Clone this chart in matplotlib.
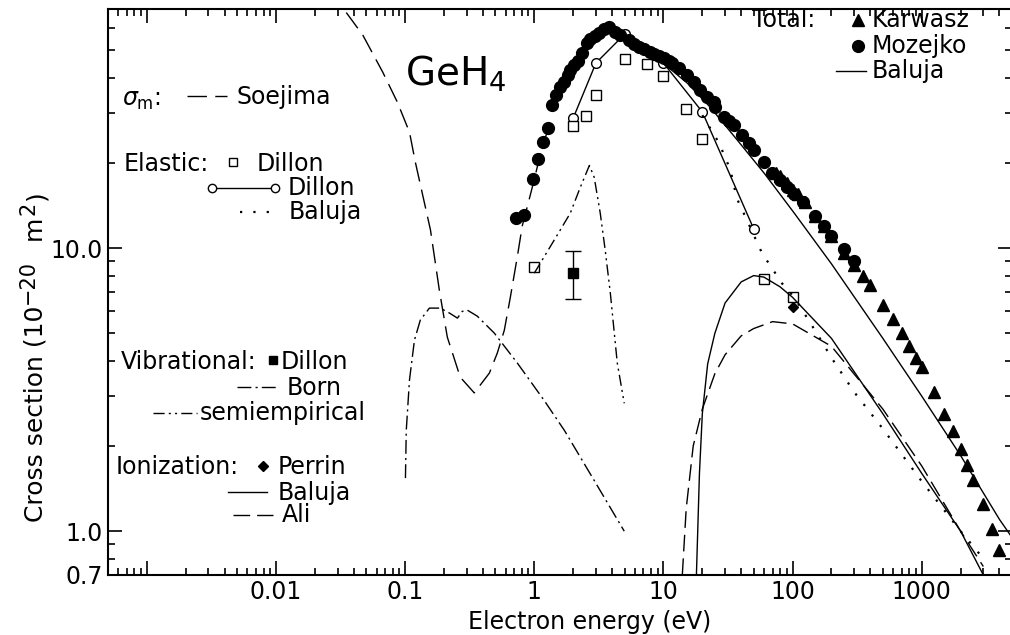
import numpy as np
import matplotlib.pyplot as plt

# GeH4 electron scattering cross sections (energies in eV, cross sections in 1e-20 m^2)

# sigma_m, Soejima
soejima_e = [0.035, 0.047, 0.067, 0.087, 0.108, 0.12, 0.157, 0.184, 0.212, 0.267, 0.343,
             0.449, 0.517, 0.586, 0.652, 0.738, 0.807, 0.91, 1.0, 1.1, 1.2, 1.28]
soejima_q = [68, 56.6, 41.9, 32.8, 25.7, 20.1, 11.6, 7.1, 4.85, 3.5, 3.08,
             3.62, 4.26, 5.13, 6.7, 9.3, 12.0, 14.8, 17.5, 21.0, 24.0, 26.5]

# elastic, Dillon (squares)
dillon_sq_e = [1.0, 2.0, 2.5, 3.0, 5.0, 7.5, 10, 15, 20, 60, 100]
dillon_sq_q = [8.6, 27.0, 29.3, 34.7, 46.6, 44.7, 40.5, 31.0, 24.3, 7.77, 6.7]

# elastic, Dillon (circles joined by a line)
dillon_ci_e = [2, 3, 5, 10, 20, 50]
dillon_ci_q = [28.8, 45.1, 57.0, 45.1, 30.3, 11.7]

# elastic, Baluja
baluja_el_e = [20, 27, 33, 37, 46, 58, 83, 103, 150, 200, 300, 500, 1000, 2000, 3000]
baluja_el_q = [29.5, 23.5, 18.9, 15.0, 12.1, 9.6, 7.5, 6.7, 5.1, 4.1, 3.1, 2.3, 1.5, 1.0, 0.8]

# vibrational
vib_dillon_e = [2.0]
vib_dillon_q = [8.2]
vib_dillon_lo = [6.6]
vib_dillon_hi = [9.75]

born_e = [0.1005, 0.102, 0.108, 0.118, 0.131, 0.154, 0.187, 0.22, 0.254, 0.277, 0.303,
          0.362, 0.49, 0.738, 1.19, 1.71, 2.91, 4.97]
born_q = [1.54, 2.27, 3.42, 4.73, 5.57, 6.14, 6.14, 5.9, 5.66, 5.98, 6.04,
          5.75, 5.01, 3.93, 2.9, 2.27, 1.51, 1.0]

semi_e = [1.0, 1.59, 1.9, 2.27, 2.67, 2.91, 3.24, 3.54, 3.88, 4.39, 4.97]
semi_q = [8.16, 11.6, 13.3, 16.4, 19.6, 17.8, 13.3, 9.84, 6.93, 3.93, 2.83]

# ionization
perrin_e = [100]
perrin_q = [6.2]

baluja_ion_e = [18, 19, 20, 22, 25, 30, 40, 50, 60, 80, 100, 200, 500, 1000, 2000, 3000]
baluja_ion_q = [0.7, 1.6, 2.6, 3.9, 5.0, 6.4, 7.6, 8.0, 7.9, 7.3, 6.7, 4.8, 2.6, 1.6, 1.0, 0.7]

ali_e = [14, 15, 17, 20, 25, 30, 40, 50, 70, 100, 200, 500, 1000, 2000, 3000]
ali_q = [0.7, 1.2, 2.0, 2.7, 3.6, 4.2, 4.9, 5.2, 5.5, 5.4, 4.5, 2.7, 1.7, 1.0, 0.75]

# total
karwasz_e = [75, 80, 90, 100, 110, 125, 150, 175, 200, 250, 300, 350, 400, 500, 600, 700,
             800, 900, 1000, 1250, 1500, 1750, 2000, 2250, 2500, 3000, 3500, 4000]
karwasz_q = [18.5, 18, 17, 16, 15.5, 14.5, 13, 12, 11, 9.6, 8.7, 8.0, 7.4, 6.3, 5.6, 5.0,
             4.5, 4.1, 3.8, 3.1, 2.6, 2.25, 1.95, 1.72, 1.52, 1.25, 1.02, 0.86]

mozejko_e = [0.726, 0.837, 0.98, 1.07, 1.17, 1.28, 1.38, 1.48, 1.59, 1.71, 1.83, 1.9, 2.04, 2.19,
             2.35, 2.57, 2.71, 2.96, 3.18, 3.48, 3.81, 4.23, 4.63, 5.43, 5.94, 6.5, 7.1, 7.8,
             8.5, 9.3, 10.1, 11.1, 11.7, 13.3, 15.3, 17.3, 19.2, 21.8, 24.6, 25.2, 29.5, 32.3,
             35.3, 40.6, 46.1, 50.5, 60.3, 69.5, 80.3, 90.6, 103, 120, 150, 175, 200, 250, 300]
mozejko_q = [12.8, 13.1, 17.5, 20.6, 23.7, 26.5, 32.0, 34.7, 37.0, 38.6, 40.8, 42.5, 44.3, 45.8,
             48.9, 53.0, 54.7, 56.1, 57.5, 59.3, 60.4, 58.0, 56.5, 54.3, 52.5, 51.4, 50.5, 49.3,
             48.5, 47.7, 46.9, 45.8, 45.1, 43.2, 40.8, 38.6, 36.1, 34.2, 32.8, 31.5, 29.0, 28.1,
             27.2, 25.1, 23.5, 22.2, 20.1, 18.5, 17.4, 16.4, 15.6, 14.5, 13.0, 12.0, 11.0, 9.9, 9.0]

baluja_tot_e = [10, 15.3, 23, 37.3, 60.3, 103, 200, 500, 1000, 2000, 4000, 5000]
baluja_tot_q = [45, 38.3, 31.5, 24.1, 18.4, 13.3, 8.8, 4.8, 3.0, 1.85, 1.1, 0.95]

plt.rcParams['font.family'] = 'DejaVu Sans'
plt.rcParams['font.size'] = 17
plt.rcParams['mathtext.fontset'] = 'dejavusans'

W, H = 1010, 635
fig = plt.figure(figsize=(W / 100, H / 100), dpi=100)
L, R, T, B = 108, 1012, 9, 575
ax = fig.add_axes([L / W, 1 - B / H, (R - L) / W, (B - T) / H])
ax.set_xscale('log')
ax.set_yscale('log')
ax.set_xlim(0.0005, 5000)
ax.set_ylim(0.7, 70)

dots = (0, (1, 5))
k = dict(color='black', lw=1.0)
ax.plot(soejima_e, soejima_q, ls=(0, (14, 6)), **k)
ax.plot(dillon_ci_e, dillon_ci_q, marker='o', ms=7, mfc='white', mec='black', mew=1.0, **k)
ax.plot(dillon_sq_e, dillon_sq_q, ls='none', marker='s', ms=7.5, mfc='white', mec='black', mew=1.0)
ax.plot(baluja_el_e, baluja_el_q, ls=dots, color='black', lw=1.6)
ax.plot(born_e, born_q, ls=(0, (10, 3, 1.5, 3)), **k)
ax.plot(semi_e, semi_q, ls=(0, (8, 3, 1.5, 3, 1.5, 3)), **k)
ax.errorbar(vib_dillon_e, vib_dillon_q,
            yerr=[np.subtract(vib_dillon_q, vib_dillon_lo), np.subtract(vib_dillon_hi, vib_dillon_q)],
            fmt='s', ms=7, color='black', capsize=6, elinewidth=1.0, capthick=1.0)
ax.plot(baluja_ion_e, baluja_ion_q, ls='-', **k)
ax.plot(ali_e, ali_q, ls=(0, (12, 5)), **k)
ax.plot(perrin_e, perrin_q, ls='none', marker='D', ms=5, color='black')
ax.plot(baluja_tot_e, baluja_tot_q, ls='-', **k)
ax.plot(mozejko_e, mozejko_q, ls='none', marker='o', ms=8.5, color='black')
ax.plot(karwasz_e, karwasz_q, ls='none', marker='^', ms=8, color='black')

ax.set_xticks([0.001, 0.01, 0.1, 1, 10, 100, 1000])
ax.set_xticklabels(['', '0.01', '0.1', '1', '10', '100', '1000'])
ax.set_yticks([0.7, 1, 10])
ax.set_yticklabels(['0.7', '1.0', '10.0'])
ax.tick_params(which='both', direction='in', top=True, right=True, width=1.2)
ax.tick_params(which='major', length=10)
ax.tick_params(which='minor', length=5)
for s in ax.spines.values():
    s.set_linewidth(1.5)

ax.set_xlabel('Electron energy (eV)')
ax.xaxis.set_label_coords((590 - L) / (R - L), -(610 - B) / (B - T))

# y label built from pieces so the exponents stay large
renderer = fig.canvas.get_renderer()
ylab = [('Cross section (10', 18, 0), ('\u221220', 15, -9), ('  m', 18, 0), ('2', 15, -9), (')', 18, 0)]
yy = H - 522
for s, size, dx in ylab:
    t = fig.text(43 / W + dx / W, yy / H, s, fontsize=size, rotation=90, rotation_mode='anchor',
                 ha='left', va='baseline')
    yy += t.get_window_extent(renderer).height + 2


# legend pieces placed in pixel positions of the figure
def fx(px):
    return (px - L) / (R - L)


def fy(py):
    return (B - py) / (B - T)


def label(px, py, s, **kw):
    ax.text(fx(px), fy(py), s, transform=ax.transAxes, va='center', ha='left', **kw)


def sample(x0, x1, py, ls='-', lw=1.0):
    ax.plot([fx(x0), fx(x1)], [fy(py), fy(py)], transform=ax.transAxes, color='black', lw=lw,
            ls=ls, clip_on=False)


def mark(px, py, **kw):
    ax.plot([fx(px)], [fy(py)], transform=ax.transAxes, color='black', ls='none', clip_on=False, **kw)


label(405, 74, r'GeH$_4$', fontsize=28)

label(122, 100, r'$\sigma_{\rm m}$:')
sample(187, 227, 96, ls=(0, (14, 6)))
label(237, 97, 'Soejima')

label(124, 164, 'Elastic:')
mark(233, 162, marker='s', ms=6, mfc='white', mec='black')
label(257, 164, 'Dillon')
sample(212, 275, 188)
mark(212, 188, marker='o', ms=6, mfc='white', mec='black')
mark(275, 188, marker='o', ms=6, mfc='white', mec='black')
label(288, 188, 'Dillon')
sample(240, 272, 212, ls=dots, lw=1.6)
label(289, 212, 'Baluja')

label(121, 362, 'Vibrational:')
mark(273, 360, marker='s', ms=5.5)
label(281, 362, 'Dillon')
sample(237, 277, 387, ls=(0, (10, 3, 1.5, 3)))
label(287, 388, 'Born')
sample(153, 197, 413, ls=(0, (8, 3, 1.5, 3, 1.5, 3)))
label(200, 413, 'semiempirical')

label(116, 467, 'Ionization:')
mark(263, 466, marker='D', ms=5)
label(278, 467, 'Perrin')
sample(228, 267, 492)
label(278, 493, 'Baluja')
sample(233, 273, 515, ls=(0, (12, 5)))
label(282, 515, 'Ali')

label(752, 20, 'Total:')
mark(858, 20, marker='^', ms=8)
label(872, 20, 'Karwasz')
mark(858, 46, marker='o', ms=8.5)
label(872, 46, 'Mozejko')
sample(836, 866, 71)
label(872, 71, 'Baluja')

fig.savefig('out.png', dpi=100)
